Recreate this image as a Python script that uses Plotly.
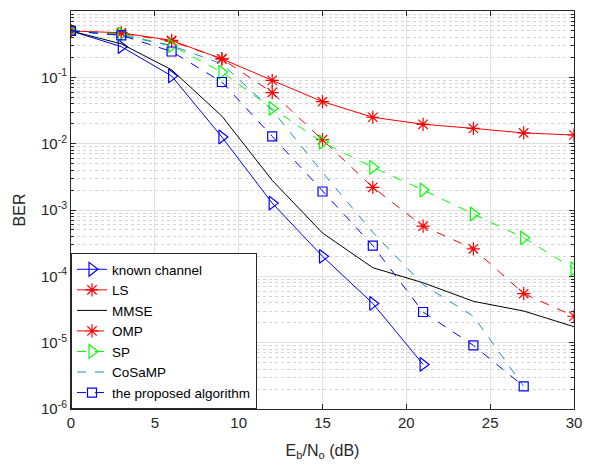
import plotly.graph_objects as go

snr = [0, 3, 6, 9, 12, 15, 18, 21, 24, 27, 30]

known = [0.5, 0.29, 0.105, 0.0126, 0.00127, 2.0e-4, 3.9e-5, 4.7e-6]
ls = [0.5, 0.47, 0.36, 0.19, 0.09, 0.043, 0.025, 0.0196, 0.017, 0.0145, 0.0135]
mmse = [0.5, 0.32, 0.13, 0.026, 0.0028, 4.5e-4, 1.35e-4, 8.0e-5, 4.2e-5, 3.0e-5, 1.74e-5]
omp = [0.5, 0.46, 0.35, 0.19, 0.059, 0.0115, 0.0022, 5.7e-4, 2.6e-4, 5.5e-5, 2.5e-5]
sp = [0.5, 0.45, 0.3, 0.12, 0.034, 0.0105, 0.0044, 0.002, 8.7e-4, 3.8e-4, 1.3e-4]
cosamp = [0.5, 0.43, 0.3, 0.16, 0.032, 0.0037, 4.6e-4, 7.5e-5, 2.5e-5, 2.2e-6]
proposed = [0.5, 0.43, 0.245, 0.085, 0.0129, 0.0019, 2.9e-4, 2.9e-5, 9.1e-6, 2.2e-6]

names = ["known channel", "LS", "MMSE", "OMP", "SP", "CoSaMP", "the proposed algorithm"]

fig = go.Figure()

def add(y, name, color, dash, symbol, size):
    fig.add_trace(go.Scatter(
        x=snr[:len(y)], y=y, name=name,
        mode="lines+markers" if symbol else "lines",
        line=dict(color=color, width=1, dash=dash),
        marker=dict(symbol=symbol or "circle", size=size, color=color,
                    line=dict(color=color, width=1.2)),
    ))

add(known, names[0], "#0000FF", "solid", "triangle-right-open", 12)
add(ls, names[1], "#FF0000", "solid", "asterisk-open", 11)
add(mmse, names[2], "#000000", "solid", None, 0)
add(omp, names[3], "#FF0000", "dash", "asterisk-open", 11)
add(sp, names[4], "#00FF00", "dash", "triangle-right-open", 12)
add(cosamp, names[5], "#1E88D0", "dash", None, 0)
add(proposed, names[6], "#0000FF", "dash", "square-open", 9)

ytickvals = [10.0 ** k for k in range(-6, 1)]
yticktext = ["10<sup>%d</sup>" % k for k in range(-6, 1)]
minor_vals = [m * 10.0 ** k for k in range(-6, 0) for m in range(2, 10)]

axis_font = dict(family="Liberation Sans, Arial, sans-serif", size=15, color="#262626")

fig.update_layout(
    width=592, height=473,
    margin=dict(l=71, r=11, t=10, b=64),
    paper_bgcolor="white", plot_bgcolor="white",
    font=dict(family="Liberation Sans, Arial, sans-serif", color="#262626"),
    showlegend=True,
    legend=dict(x=0, y=0, xanchor="left", yanchor="bottom",
                bgcolor="white", bordercolor="#262626", borderwidth=1,
                font=dict(family="Liberation Sans, Arial, sans-serif", size=13.5, color="#000000"),
                tracegroupgap=0, itemwidth=30),
    xaxis=dict(range=[0, 30], tickvals=[0, 5, 10, 15, 20, 25, 30],
               ticks="inside", ticklen=5, tickcolor="#262626",
               showline=True, linecolor="#262626", linewidth=1, mirror="ticks",
               showgrid=True, gridcolor="#E0E0E0", gridwidth=1, zeroline=False,
               tickfont=axis_font,
               title=dict(text="E<sub>b</sub>/N<sub>o</sub> (dB)", font=dict(size=16, color="#262626"), standoff=14)),
    yaxis=dict(type="log", range=[-6, 0], tickvals=ytickvals, ticktext=yticktext,
               ticks="inside", ticklen=5, tickcolor="#262626",
               showline=True, linecolor="#262626", linewidth=1, mirror="ticks",
               showgrid=True, gridcolor="#E0E0E0", gridwidth=1, zeroline=False,
               tickfont=axis_font,
               minor=dict(tickvals=minor_vals, ticks="inside", ticklen=3, tickcolor="#262626",
                          showgrid=True, gridcolor="#D4D4D4", griddash="dot", gridwidth=1),
               title=dict(text="BER", font=dict(size=16, color="#262626"), standoff=11)),
)

fig.write_html("out.html")
